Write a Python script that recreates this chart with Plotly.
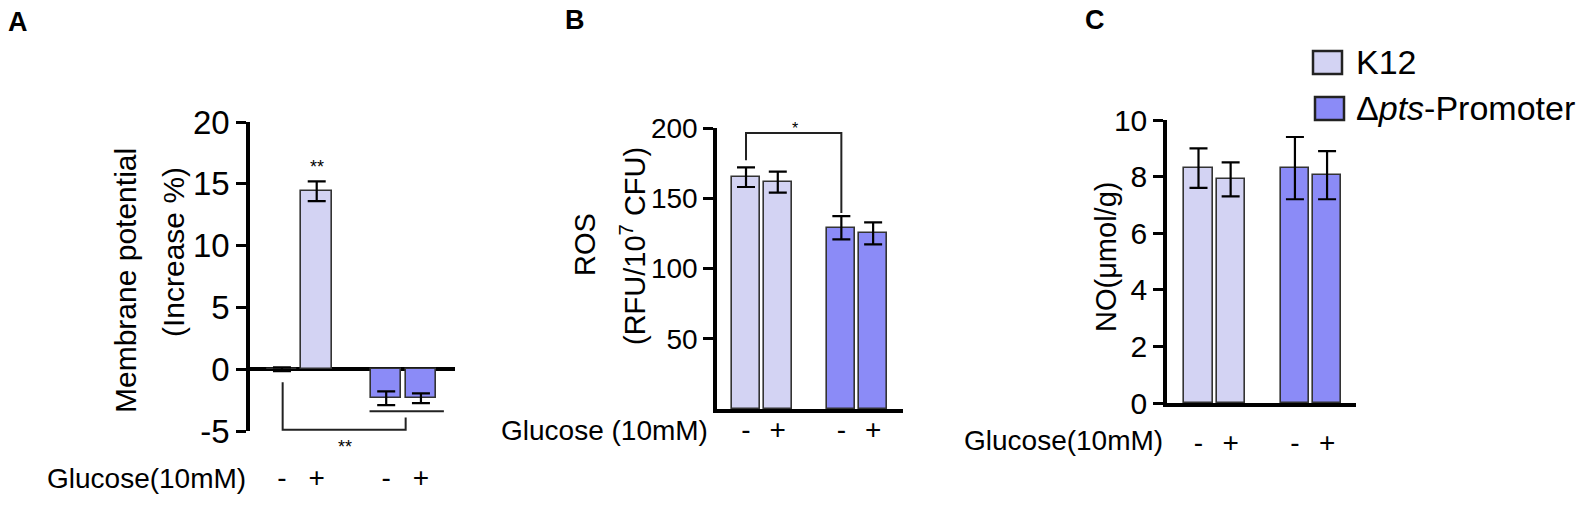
import plotly.graph_objects as go

W, H = 1594, 507

# ---------------- data ----------------
strains = ["K12", "Δpts-Promoter"]
glucose_labels = ["-", "+"]

membrane_k12 = [0.0, 14.4]
membrane_k12_err = [0.15, 0.8]
membrane_pts = [-2.35, -2.35]
membrane_pts_err = [0.55, 0.4]

ros_k12 = [165.0, 161.5]
ros_k12_err = [7.0, 7.5]
ros_pts = [129.0, 125.0]
ros_pts_err = [8.3, 7.8]

no_k12 = [8.3, 7.9]
no_k12_err = [0.7, 0.6]
no_pts = [8.3, 8.05]
no_pts_err = [1.1, 0.85]

membrane_ticks = [-5, 0, 5, 10, 15, 20]
membrane_ticktext = ["-5", "0", "5", "10", "15", "20"]
ros_ticks = [50, 100, 150, 200]
no_ticks = [0, 2, 4, 6, 8, 10]

colors = ["#d3d3f3", "#8b8bf7"]
FONT = "Liberation Sans, Arial, Helvetica, sans-serif"


def px(x):
    return x / W


def py(y):
    return 1 - y / H


# positions: group g, glucose i -> g*3 + i
def positions(g):
    return [g * 3 + i for i in range(len(glucose_labels))]


tickvals = positions(0) + positions(1)
ticktext = glucose_labels * 2

fig = go.Figure()

panels = [
    ("x", "y", [membrane_k12, membrane_pts], [membrane_k12_err, membrane_pts_err]),
    ("x2", "y2", [ros_k12, ros_pts], [ros_k12_err, ros_pts_err]),
    ("x3", "y3", [no_k12, no_pts], [no_k12_err, no_pts_err]),
]

for xa, ya, vals, errs in panels:
    for g, (v, e) in enumerate(zip(vals, errs)):
        fig.add_trace(go.Bar(
            x=positions(g), y=v, name=strains[g], width=0.88,
            marker=dict(color=colors[g], line=dict(color="#333333", width=1.6)),
            error_y=dict(type="data", array=e, visible=True, thickness=2.2,
                         width=9, color="black"),
            xaxis=xa, yaxis=ya, showlegend=False,
        ))

axis_common = dict(showgrid=False, color="black", automargin=False)

fig.update_layout(
    template="none",
    width=W, height=H,
    margin=dict(l=0, r=0, t=0, b=0, pad=0, autoexpand=False),
    paper_bgcolor="white", plot_bgcolor="white",
    font=dict(family=FONT, color="black"),
    bargap=0, barmode="overlay", showlegend=False,
    # Panel A
    xaxis=dict(domain=[px(250), px(455)], range=[-0.92, 4.98], anchor="y",
               tickvals=tickvals, ticktext=ticktext, ticks="", showline=False,
               zeroline=False, tickfont=dict(size=28), ticklabelstandoff=27,
               **axis_common),
    yaxis=dict(domain=[py(431), py(122)], range=[-5, 20], anchor="x",
               tickvals=membrane_ticks, ticktext=membrane_ticktext,
               ticks="outside", ticklen=10,
               tickwidth=3, showline=True, linewidth=3.5, linecolor="black",
               zeroline=True, zerolinecolor="black", zerolinewidth=3.5,
               tickfont=dict(size=33), **axis_common),
    # Panel B
    xaxis2=dict(domain=[px(717), px(903)], range=[-0.913, 4.94], anchor="y2",
                tickvals=tickvals, ticktext=ticktext, ticks="", showline=True,
                linewidth=3.5, linecolor="black", zeroline=False,
                tickfont=dict(size=28), ticklabelstandoff=-7, **axis_common),
    yaxis2=dict(domain=[py(409), py(128)], range=[0, 200], anchor="x2",
                tickvals=ros_ticks, ticks="outside", ticklen=10,
                tickwidth=3, showline=True, linewidth=3.5, linecolor="black",
                zeroline=False, tickfont=dict(size=28), **axis_common),
    # Panel C
    xaxis3=dict(domain=[px(1167), px(1356)], range=[-0.98, 4.9], anchor="y3",
                tickvals=tickvals, ticktext=ticktext, ticks="", showline=True,
                linewidth=3.5, linecolor="black", zeroline=False,
                tickfont=dict(size=28), ticklabelstandoff=12, **axis_common),
    yaxis3=dict(domain=[py(403), py(120)], range=[0, 10], anchor="x3",
                tickvals=no_ticks, ticks="outside", ticklen=10,
                tickwidth=3, showline=True, linewidth=3.5, linecolor="black",
                zeroline=False, tickfont=dict(size=30), **axis_common),
)

ann = []
shapes = []


def text(x, y, t, size, anchor="center", angle=0, bold=False):
    ann.append(dict(x=px(x), y=py(y), xref="paper", yref="paper", text=t,
                    showarrow=False, xanchor=anchor, yanchor="middle",
                    textangle=angle,
                    font=dict(size=size, family=FONT, color="black",
                              weight="bold" if bold else "normal")))


# panel letters
text(18, 22, "A", 27, bold=True)
text(575, 20, "B", 27, bold=True)
text(1095, 20, "C", 27, bold=True)

# y-axis titles
text(125, 281, "Membrane potential", 30, angle=-90)
text(173, 252, "(Increase %)", 30, angle=-90)
text(585, 245, "ROS", 29, angle=-90)
text(633, 246, "(RFU/10<sup>7</sup> CFU)", 29, angle=-90)
text(1106, 257, "NO(μmol/g)", 29, angle=-90)

# Glucose row labels
text(248, 478, "Glucose(10mM)", 28, anchor="right")
text(710, 430, "Glucose (10mM)", 28, anchor="right")
text(1165, 440, "Glucose(10mM)", 28, anchor="right")

# significance marks
text(317, 167, "**", 18)
text(345, 447, "**", 18)
text(795, 129, "*", 16)

line = dict(color="#222222", width=2)
# Panel A brackets
shapes.append(dict(type="path", xref="x", yref="y",
                   path="M 0.02,-1.05 L 0.02,-4.9 L 3.56,-4.9 L 3.56,-3.9",
                   line=line))
shapes.append(dict(type="line", xref="x", yref="y", x0=2.52, x1=4.66,
                   y0=-3.4, y1=-3.4, line=line))
# Panel B bracket
shapes.append(dict(type="path", xref="x2", yref="y2",
                   path="M 0,177 L 0,196.4 L 3,196.4 L 3,139.5", line=line))

# legend (C)
leg_boxes = [(1313, 51, 1342, 74), (1315, 97, 1344, 120)]
leg_text = ["K12", "Δ<i>pts</i>-Promoter"]
for (x0, y0, x1, y1), c, t in zip(leg_boxes, colors, leg_text):
    shapes.append(dict(type="rect", xref="paper", yref="paper",
                       x0=px(x0), x1=px(x1), y0=py(y1), y1=py(y0),
                       fillcolor=c, line=dict(color="#222222", width=2.5)))
    text(1354, (y0 + y1) / 2, t, 34, anchor="left")

fig.update_layout(annotations=ann, shapes=shapes)
fig.write_html("out.html",
               config={"displayModeBar": False},
               post_script="document.body.style.margin='0';"
                           "document.body.style.overflow='hidden';")
